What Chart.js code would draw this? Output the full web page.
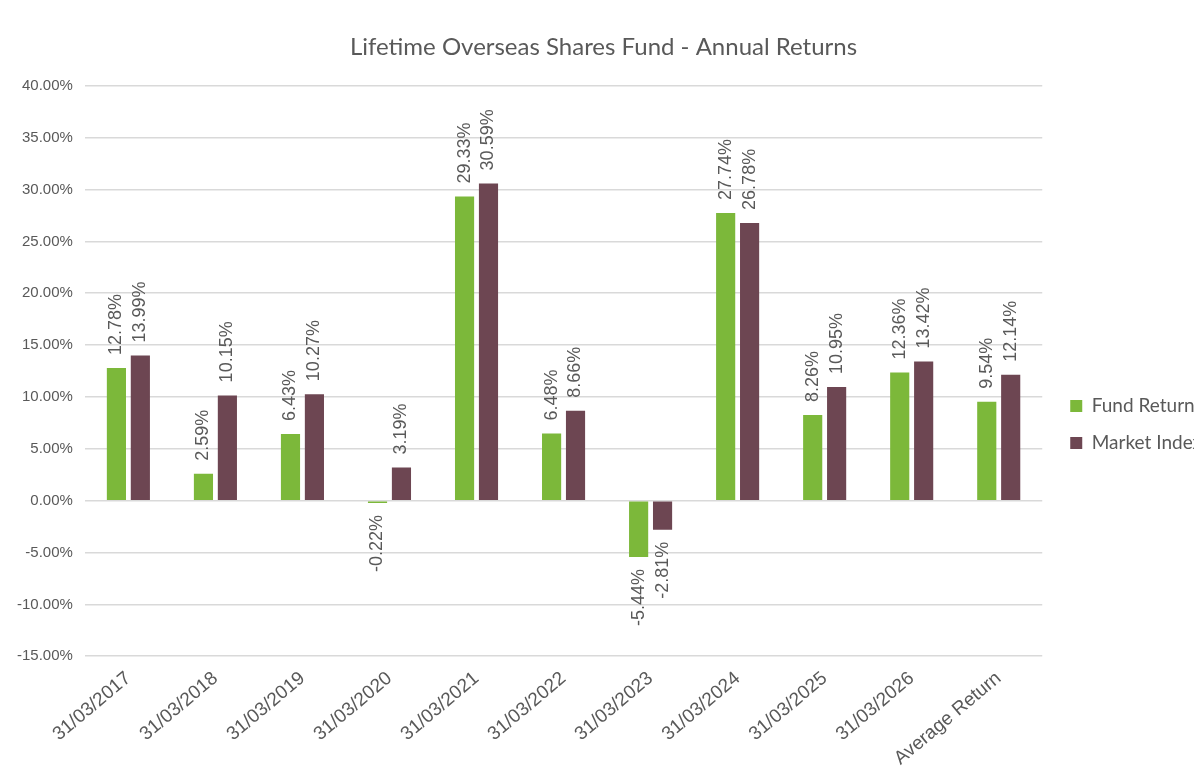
<!DOCTYPE html>
<html>
<head>
<meta charset="utf-8">
<script src="https://cdn.jsdelivr.net/npm/chart.js@4"></script>
<style>
  html, body { margin: 0; padding: 0; background: #fff; overflow: hidden; }
  #wrap { width: 1194px; height: 778px; overflow: hidden; }
</style>
</head>
<body>
<div id="wrap"><canvas id="returnsChart" width="1202" height="778"></canvas></div>
<script>
const categories = ['31/03/2017', '31/03/2018', '31/03/2019', '31/03/2020', '31/03/2021', '31/03/2022',
  '31/03/2023', '31/03/2024', '31/03/2025', '31/03/2026', 'Average Return'];
const fundReturn = [12.78, 2.59, 6.43, -0.22, 29.33, 6.48, -5.44, 27.74, 8.26, 12.36, 9.54];
const marketIndex = [13.99, 10.15, 10.27, 3.19, 30.59, 8.66, -2.81, 26.78, 10.95, 13.42, 12.14];

const grey = '#595959';

// rotated value labels above (or below) each bar
const barLabels = {
  id: 'barLabels',
  afterDatasetsDraw(chart) {
    const ctx = chart.ctx;
    ctx.save();
    ctx.font = '18px "Liberation Sans", Arial, sans-serif';
    ctx.fillStyle = grey;
    ctx.textBaseline = 'middle';
    chart.data.datasets.forEach((ds, i) => {
      chart.getDatasetMeta(i).data.forEach((bar, j) => {
        const v = ds.data[j];
        const txt = v.toFixed(2) + '%';
        ctx.save();
        ctx.translate(bar.x, bar.y);
        ctx.rotate(-Math.PI / 2);
        if (v >= 0) {
          ctx.textAlign = 'left';
          ctx.fillText(txt, 13, 0);
        } else {
          ctx.textAlign = 'right';
          ctx.fillText(txt, -12, 0);
        }
        ctx.restore();
      });
    });
    ctx.restore();
  }
};

// nudge the legend a bit right and down, like the original
const legendNudge = {
  id: 'legendNudge',
  afterLayout(chart) {
    const lg = chart.legend;
    lg.left += 10; lg.right += 10;
    lg.top += 38; lg.bottom += 38;
  }
};

new Chart(document.getElementById('returnsChart'), {
  type: 'bar',
  data: {
    labels: categories,
    datasets: [
      { label: 'Fund Return', data: fundReturn, backgroundColor: '#7cb83a' },
      { label: 'Market Index', data: marketIndex, backgroundColor: '#6d4652' }
    ]
  },
  options: {
    responsive: false,
    animation: false,
    devicePixelRatio: 1,
    layout: { padding: { left: 5, right: 0, top: 0, bottom: 5 } },
    datasets: { bar: { categoryPercentage: 0.55, barPercentage: 0.8 } },
    plugins: {
      title: {
        display: true,
        text: 'Lifetime Overseas Shares Fund - Annual Returns',
        color: grey,
        font: { family: 'Lato', size: 24, weight: 'normal' },
        padding: { top: 33, bottom: 24 }
      },
      legend: {
        position: 'right',
        labels: {
          color: grey,
          font: { family: 'Lato', size: 19 },
          boxWidth: 12,
          boxHeight: 12,
          padding: 18
        }
      },
      tooltip: { enabled: false }
    },
    scales: {
      x: {
        grid: { display: false },
        border: { display: false },
        ticks: {
          color: grey,
          font: { family: '"Liberation Sans", Arial', size: 19 },
          maxRotation: 40,
          minRotation: 40
        }
      },
      y: {
        min: -15,
        max: 40,
        border: { display: false },
        grid: { color: '#d9d9d9', lineWidth: 1.5, drawTicks: false },
        ticks: {
          stepSize: 5,
          color: grey,
          padding: 12,
          font: { family: '"Liberation Sans", Arial', size: 15 },
          callback: v => v.toFixed(2) + '%'
        }
      }
    }
  },
  plugins: [barLabels, legendNudge]
});
</script>
</body>
</html>
